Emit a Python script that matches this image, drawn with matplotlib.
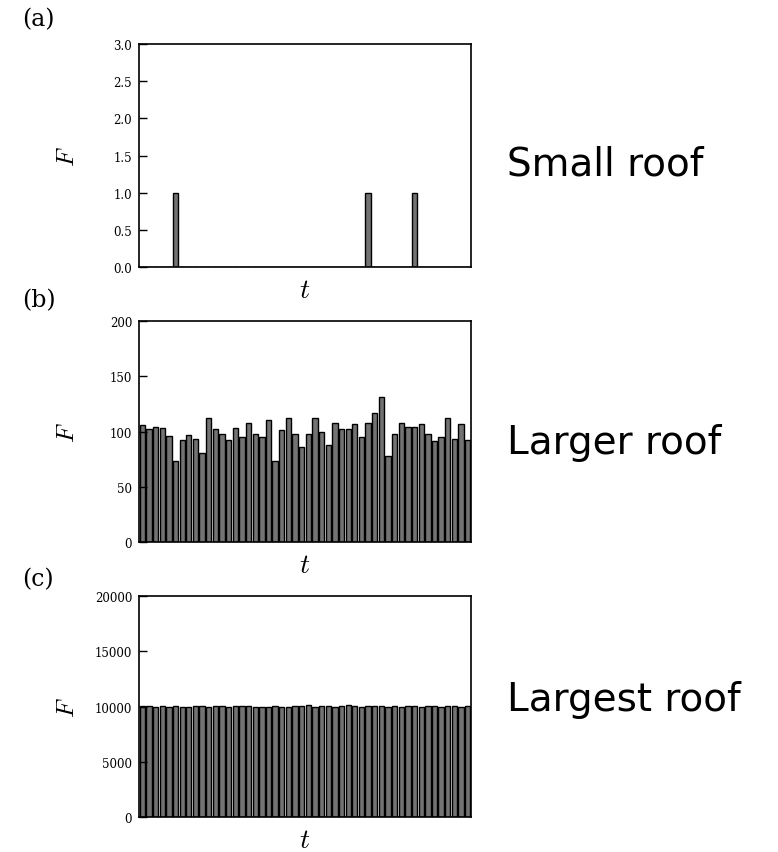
import matplotlib
matplotlib.use("Agg")
import matplotlib.pyplot as plt

plt.rcParams["mathtext.fontset"] = "cm"

# time steps (50 per panel)
steps = list(range(50))

# (a) small roof: only three drops hit
small_roof = [0, 0, 0, 0, 0, 1, 0, 0, 0, 0,
              0, 0, 0, 0, 0, 0, 0, 0, 0, 0,
              0, 0, 0, 0, 0, 0, 0, 0, 0, 0,
              0, 0, 0, 0, 1, 0, 0, 0, 0, 0,
              0, 1, 0, 0, 0, 0, 0, 0, 0, 0]

# (b) larger roof
larger_roof = [106, 102, 104, 103, 96, 73, 92, 97, 93, 81,
               112, 102, 98, 92, 103, 95, 108, 98, 95, 110,
               73, 101, 112, 98, 86, 98, 112, 100, 88, 108,
               102, 102, 107, 95, 108, 117, 131, 78, 98, 108,
               104, 104, 107, 98, 91, 95, 112, 93, 107, 92]

# (c) largest roof
largest_roof = [10050, 10020, 9980, 10030, 9920, 10010, 10000, 9960, 10040, 10060,
                9950, 10010, 10050, 9940, 10020, 10030, 10010, 9970, 9960, 9980,
                10040, 10000, 9990, 10020, 10080, 10110, 9950, 10010, 10060, 9980,
                10030, 10100, 10040, 9970, 10010, 10060, 10050, 9990, 10020, 10000,
                10070, 10030, 9980, 10040, 10020, 9960, 10010, 10030, 10000, 10020]

panels = [
    ("(a)", small_roof, 3.0, [0.0, 0.5, 1.0, 1.5, 2.0, 2.5, 3.0], "{:.1f}", "Small roof"),
    ("(b)", larger_roof, 200, [0, 50, 100, 150, 200], "{:d}", "Larger roof"),
    ("(c)", largest_roof, 20000, [0, 5000, 10000, 15000, 20000], "{:d}", "Largest roof"),
]

fig = plt.figure(figsize=(7.78, 8.53), dpi=100)

# axes boxes in figure fractions: left, bottom, width, height
boxes = [
    [0.1787, 0.6858, 0.4267, 0.2614],
    [0.1787, 0.3634, 0.4267, 0.2591],
    [0.1787, 0.0410, 0.4267, 0.2591],
]
tag_y = [0.9766, 0.648, 0.320]
name_y = [0.8066, 0.4807, 0.1794]

for box, ty, ny, (tag, vals, ymax, yticks, fmt, name) in zip(boxes, tag_y, name_y, panels):
    ax = fig.add_axes(box)
    ax.bar([s + 0.5 for s in steps], vals, width=0.8, color="#737373",
           edgecolor="black", linewidth=1.0)
    ax.set_xlim(0, 50)
    ax.set_ylim(0, ymax)
    ax.set_xticks([])
    ax.set_yticks(yticks)
    ax.set_yticklabels([fmt.format(v) for v in yticks], family="DejaVu Serif",
                       fontsize=8.5)
    ax.tick_params(axis="y", direction="in", length=6, width=1, pad=5)
    for sp in ax.spines.values():
        sp.set_linewidth(1.2)
    ax.set_ylabel("$F$", fontsize=18)
    ax.yaxis.set_label_coords(-0.18, 0.5)
    ax.set_xlabel("$t$", fontsize=20)
    ax.xaxis.set_label_coords(0.5, -0.035)

    # panel tag and roof name
    fig.text(0.028, ty, tag, family="DejaVu Serif", fontsize=17,
             va="center", ha="left")
    fig.text(0.652, ny, name, family="DejaVu Sans", fontsize=28,
             va="center", ha="left")

fig.savefig("out.png", dpi=100)
